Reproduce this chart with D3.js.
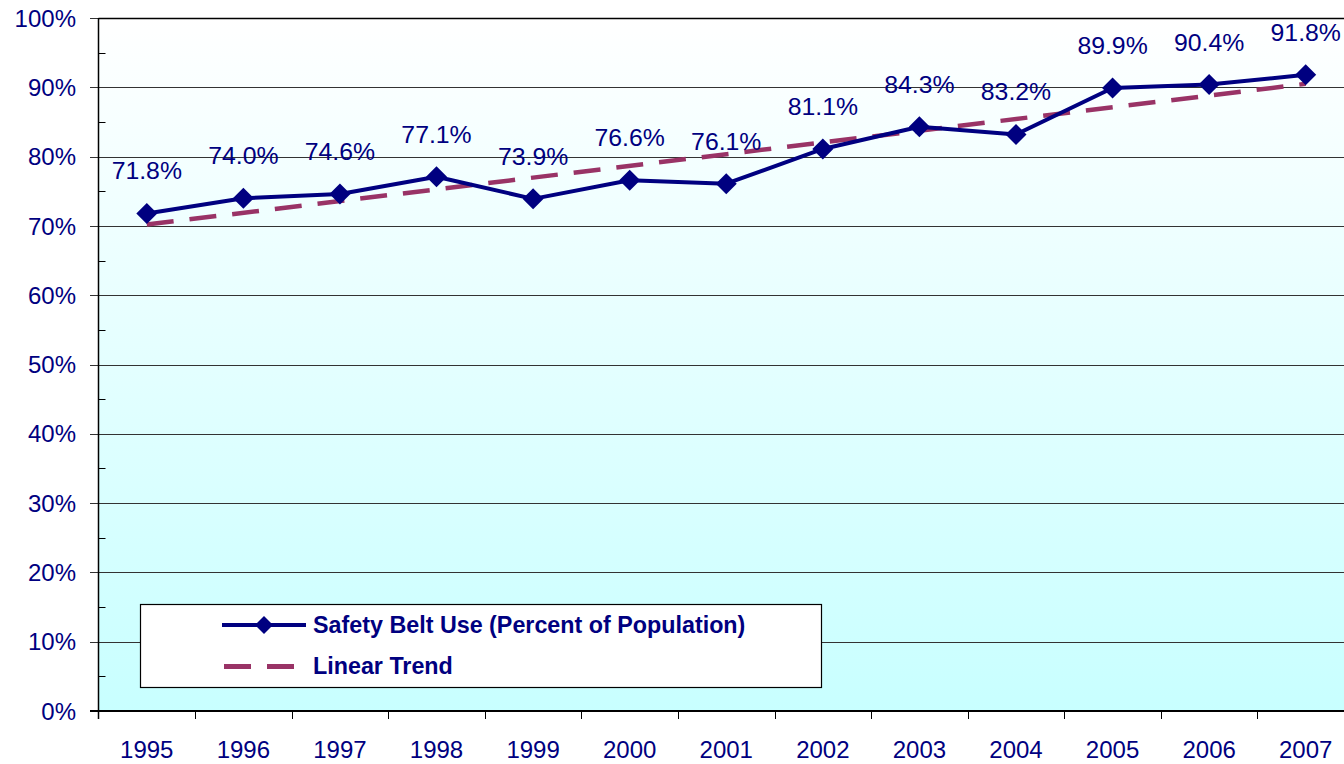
<!DOCTYPE html>
<html>
<head>
<meta charset="utf-8">
<script src="https://cdn.jsdelivr.net/npm/d3@7"></script>
<style>
  html, body { margin: 0; padding: 0; background: #ffffff; }
  svg { display: block; font-family: Arial, "Liberation Sans", sans-serif; }
</style>
</head>
<body>
<svg id="chart"></svg>
<script>
// Safety belt use, 1995-2007, with linear trend
const years = ["1995", "1996", "1997", "1998", "1999", "2000", "2001", "2002", "2003", "2004", "2005", "2006", "2007"];
const beltUse = [71.8, 74.0, 74.6, 77.1, 73.9, 76.6, 76.1, 81.1, 84.3, 83.2, 89.9, 90.4, 91.8];
const trendYears = ["1995", "2007"];
const trendValues = [70.2, 90.5];
const yTicks = [0, 10, 20, 30, 40, 50, 60, 70, 80, 90, 100];
const yMinorTicks = [5, 15, 25, 35, 45, 55, 65, 75, 85, 95];
const legendLabels = ["Safety Belt Use (Percent of Population)", "Linear Trend"];

const width = 1344;
const height = 764;
const plot = { left: 98.5, right: 1354, top: 18, bottom: 711 };
const navy = "#000080";
const trendColor = "#993366";

const svg = d3.select("#chart")
    .attr("width", width)
    .attr("height", height);

const x = d3.scaleBand()
    .domain(years)
    .range([plot.left, plot.right])
    .padding(0);

const y = d3.scaleLinear()
    .domain([0, 100])
    .range([plot.bottom, plot.top]);

const cx = function (d) { return x(d) + x.bandwidth() / 2; };

// background gradient
const defs = svg.append("defs");
const grad = defs.append("linearGradient")
    .attr("id", "bg")
    .attr("x1", 0).attr("y1", 0)
    .attr("x2", 0).attr("y2", 1);
grad.append("stop").attr("offset", "0%").attr("stop-color", "#ffffff");
grad.append("stop").attr("offset", "100%").attr("stop-color", "#c8ffff");

svg.append("rect")
    .attr("x", plot.left)
    .attr("y", plot.top)
    .attr("width", plot.right - plot.left)
    .attr("height", plot.bottom - plot.top)
    .attr("fill", "url(#bg)");

// gridlines + major ticks
svg.append("g")
    .selectAll("line")
    .data(yTicks.filter(function (d) { return d > 0; }))
    .enter()
    .append("line")
    .attr("x1", 90)
    .attr("x2", plot.right)
    .attr("y1", function (d) { return Math.round(y(d)) + 0.5; })
    .attr("y2", function (d) { return Math.round(y(d)) + 0.5; })
    .attr("stroke", "#333333")
    .attr("stroke-width", 1.2);

// minor ticks (inside)
svg.append("g")
    .selectAll("line")
    .data(yMinorTicks)
    .enter()
    .append("line")
    .attr("x1", plot.left)
    .attr("x2", plot.left + 7)
    .attr("y1", function (d) { return Math.round(y(d)) + 0.5; })
    .attr("y2", function (d) { return Math.round(y(d)) + 0.5; })
    .attr("stroke", "#000000")
    .attr("stroke-width", 1);

// y axis line
svg.append("line")
    .attr("x1", plot.left).attr("x2", plot.left)
    .attr("y1", plot.top).attr("y2", plot.bottom + 8)
    .attr("stroke", "#000000")
    .attr("stroke-width", 1.5);

// y tick labels
svg.append("g")
    .selectAll("text")
    .data(yTicks)
    .enter()
    .append("text")
    .attr("x", 76)
    .attr("y", function (d) { return y(d); })
    .attr("dy", "0.36em")
    .attr("text-anchor", "end")
    .attr("font-size", "24px")
    .attr("fill", navy)
    .text(function (d) { return d + "%"; });

// x axis
svg.append("line")
    .attr("x1", 90).attr("x2", plot.right)
    .attr("y1", plot.bottom).attr("y2", plot.bottom)
    .attr("stroke", "#000000")
    .attr("stroke-width", 2);

svg.append("g")
    .selectAll("line")
    .data(years.slice(1))
    .enter()
    .append("line")
    .attr("x1", function (d) { return Math.round(x(d)) + 0.5; })
    .attr("x2", function (d) { return Math.round(x(d)) + 0.5; })
    .attr("y1", plot.bottom)
    .attr("y2", plot.bottom + 8)
    .attr("stroke", "#000000")
    .attr("stroke-width", 1);

svg.append("g")
    .selectAll("text")
    .data(years)
    .enter()
    .append("text")
    .attr("x", cx)
    .attr("y", 758)
    .attr("text-anchor", "middle")
    .attr("font-size", "24px")
    .attr("fill", navy)
    .text(function (d) { return d; });

// trend line
svg.append("line")
    .attr("x1", cx(trendYears[0]))
    .attr("y1", y(trendValues[0]))
    .attr("x2", cx(trendYears[1]))
    .attr("y2", y(trendValues[1]))
    .attr("stroke", trendColor)
    .attr("stroke-width", 4.5)
    .attr("stroke-dasharray", "27 16");

// data series
const series = years.map(function (yr, i) { return { year: yr, value: beltUse[i] }; });

const line = d3.line()
    .x(function (d) { return cx(d.year); })
    .y(function (d) { return y(d.value); });

svg.append("path")
    .datum(series)
    .attr("d", line)
    .attr("fill", "none")
    .attr("stroke", navy)
    .attr("stroke-width", 4)
    .attr("stroke-linejoin", "round");

const diamond = function (px, py, r) {
    return "M" + px + "," + (py - r) + " L" + (px + r) + "," + py +
        " L" + px + "," + (py + r) + " L" + (px - r) + "," + py + " Z";
};

svg.append("g")
    .selectAll("path")
    .data(series)
    .enter()
    .append("path")
    .attr("d", function (d) { return diamond(cx(d.year), y(d.value), 10.5); })
    .attr("fill", navy);

// data labels
svg.append("g")
    .selectAll("text")
    .data(series)
    .enter()
    .append("text")
    .attr("x", function (d) { return cx(d.year); })
    .attr("y", function (d) { return y(d.value) - 34; })
    .attr("text-anchor", "middle")
    .attr("font-size", "24.8px")
    .attr("fill", navy)
    .text(function (d) { return d.value.toFixed(1) + "%"; });

// legend
const legend = svg.append("g").attr("class", "legend");
legend.append("rect")
    .attr("x", 140.5)
    .attr("y", 604.5)
    .attr("width", 681)
    .attr("height", 83)
    .attr("fill", "#ffffff")
    .attr("stroke", "#000000")
    .attr("stroke-width", 1.2);

legend.append("line")
    .attr("x1", 222).attr("x2", 306)
    .attr("y1", 625).attr("y2", 625)
    .attr("stroke", navy)
    .attr("stroke-width", 4);
legend.append("path")
    .attr("d", diamond(264, 625, 9))
    .attr("fill", navy);

legend.append("line")
    .attr("x1", 224).attr("x2", 306)
    .attr("y1", 666.5).attr("y2", 666.5)
    .attr("stroke", trendColor)
    .attr("stroke-width", 5)
    .attr("stroke-dasharray", "27 16");

legend.selectAll("text.leg")
    .data(legendLabels)
    .enter()
    .append("text")
    .attr("class", "leg")
    .attr("x", 313)
    .attr("y", function (d, i) { return 633 + i * 41; })
    .attr("font-size", "23.3px")
    .attr("font-weight", "bold")
    .attr("fill", navy)
    .text(function (d) { return d; });

// top border
svg.append("line")
    .attr("x1", plot.left).attr("x2", plot.right)
    .attr("y1", plot.top + 0.5).attr("y2", plot.top + 0.5)
    .attr("stroke", "#000000")
    .attr("stroke-width", 1.5);
</script>
</body>
</html>
